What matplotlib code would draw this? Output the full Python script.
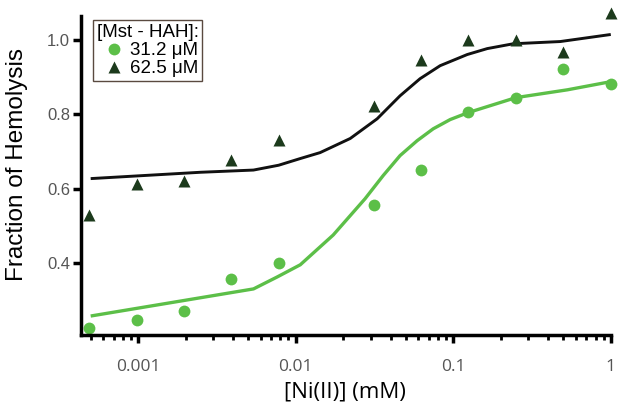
import matplotlib
matplotlib.use("Agg")
import matplotlib.pyplot as plt
from matplotlib.lines import Line2D

# measured points, Ni(II) concentration in mM
ni_conc = [0.000488, 0.000977, 0.00195, 0.0039, 0.0078, 0.03125, 0.0625, 0.125, 0.25, 0.5, 1.0]
hemo_31 = [0.225, 0.247, 0.271, 0.357, 0.400, 0.557, 0.650, 0.805, 0.845, 0.923, 0.883]
hemo_62 = [0.529, 0.612, 0.620, 0.678, 0.732, 0.823, 0.947, 1.000, 1.000, 0.969, 1.074]

# fitted curves
fit_31_x = [0.0005, 0.0054, 0.00762, 0.0107, 0.0173, 0.0276, 0.0359, 0.046, 0.059,
            0.0746, 0.0957, 0.125, 0.25, 0.53, 1.0]
fit_31_y = [0.257, 0.330, 0.362, 0.395, 0.475, 0.573, 0.635, 0.689, 0.729,
            0.761, 0.786, 0.805, 0.845, 0.866, 0.888]
fit_62_x = [0.0005, 0.00248, 0.0054, 0.0078, 0.0107, 0.0143, 0.0222, 0.0329, 0.046,
            0.0616, 0.0826, 0.1227, 0.1644, 0.2404, 0.478, 1.0]
fit_62_y = [0.627, 0.644, 0.650, 0.663, 0.681, 0.697, 0.735, 0.788, 0.850,
            0.896, 0.931, 0.961, 0.977, 0.990, 0.996, 1.015]

x_ticks = [0.001, 0.01, 0.1, 1]
x_tick_labels = ["0.001", "0.01", "0.1", "1"]
y_ticks = [0.4, 0.6, 0.8, 1.0]

green = "#5cbf48"
dark = "#1c3a1c"

fig = plt.figure(figsize=(6.24, 4.08), dpi=100)
ax = fig.add_axes([0.1298, 0.179, 0.849, 0.782])

ax.plot(fit_31_x, fit_31_y, color=green, lw=2.4, solid_capstyle="butt")
ax.plot(fit_62_x, fit_62_y, color="#111111", lw=2.1, solid_capstyle="butt")
ax.plot(ni_conc, hemo_31, "o", color=green, ms=8.5, mec="none", clip_on=False)
ax.plot(ni_conc, hemo_62, "^", color=dark, ms=8.5, mec="none", clip_on=False)

ax.set_xscale("log")
ax.set_xlim(0.000434, 1.0)
ax.set_ylim(0.206, 1.065)
ax.set_xticks(x_ticks)
ax.set_xticklabels(x_tick_labels)
ax.set_yticks(y_ticks)
ax.set_yticklabels([f"{v:.1f}" for v in y_ticks])

for side in ("top", "right"):
    ax.spines[side].set_visible(False)
for side in ("left", "bottom"):
    ax.spines[side].set_linewidth(2.5)
    ax.spines[side].set_color("black")

ax.tick_params(axis="both", which="major", direction="out", length=6, width=2.5,
               colors="black", labelcolor="#555555")
ax.tick_params(axis="x", which="major", labelsize=12.5, pad=11)
ax.tick_params(axis="y", which="major", labelsize=12, pad=2)
ax.tick_params(axis="x", which="minor", direction="out", length=3.5, width=2)
for lab in ax.get_xticklabels():
    lab.set_family("Open Sans")
for lab in ax.get_yticklabels():
    lab.set_family("Liberation Sans")

ax.set_xlabel("[Ni(II)] (mM)", fontsize=16, family="Open Sans", va="top")
ax.xaxis.set_label_coords(0.498, -0.145)
ax.set_ylabel("Fraction of Hemolysis", fontsize=17.5, family="Liberation Sans")
ax.yaxis.set_label_coords(-0.100, 0.533)

handles = [
    Line2D([], [], marker="o", ls="none", color=green, ms=8.5, mec="none"),
    Line2D([], [], marker="^", ls="none", color=dark, ms=8.5, mec="none"),
]
leg = ax.legend(handles, ["31.2 μM", "62.5 μM"], title="[Mst - HAH]:",
                loc="upper left", bbox_to_anchor=(0.0226, 0.987), fancybox=False,
                framealpha=1, edgecolor="#5a4a40", handletextpad=0.0,
                handlelength=1.8, borderpad=0.2, labelspacing=0.05,
                borderaxespad=0.0,
                prop={"family": "Liberation Sans", "size": 13.5},
                title_fontproperties={"family": "Liberation Sans", "size": 13.5},
                alignment="left")
leg.get_frame().set_linewidth(1.0)
leg._legend_box.sep = 1

fig.savefig("out.png", dpi=100)
